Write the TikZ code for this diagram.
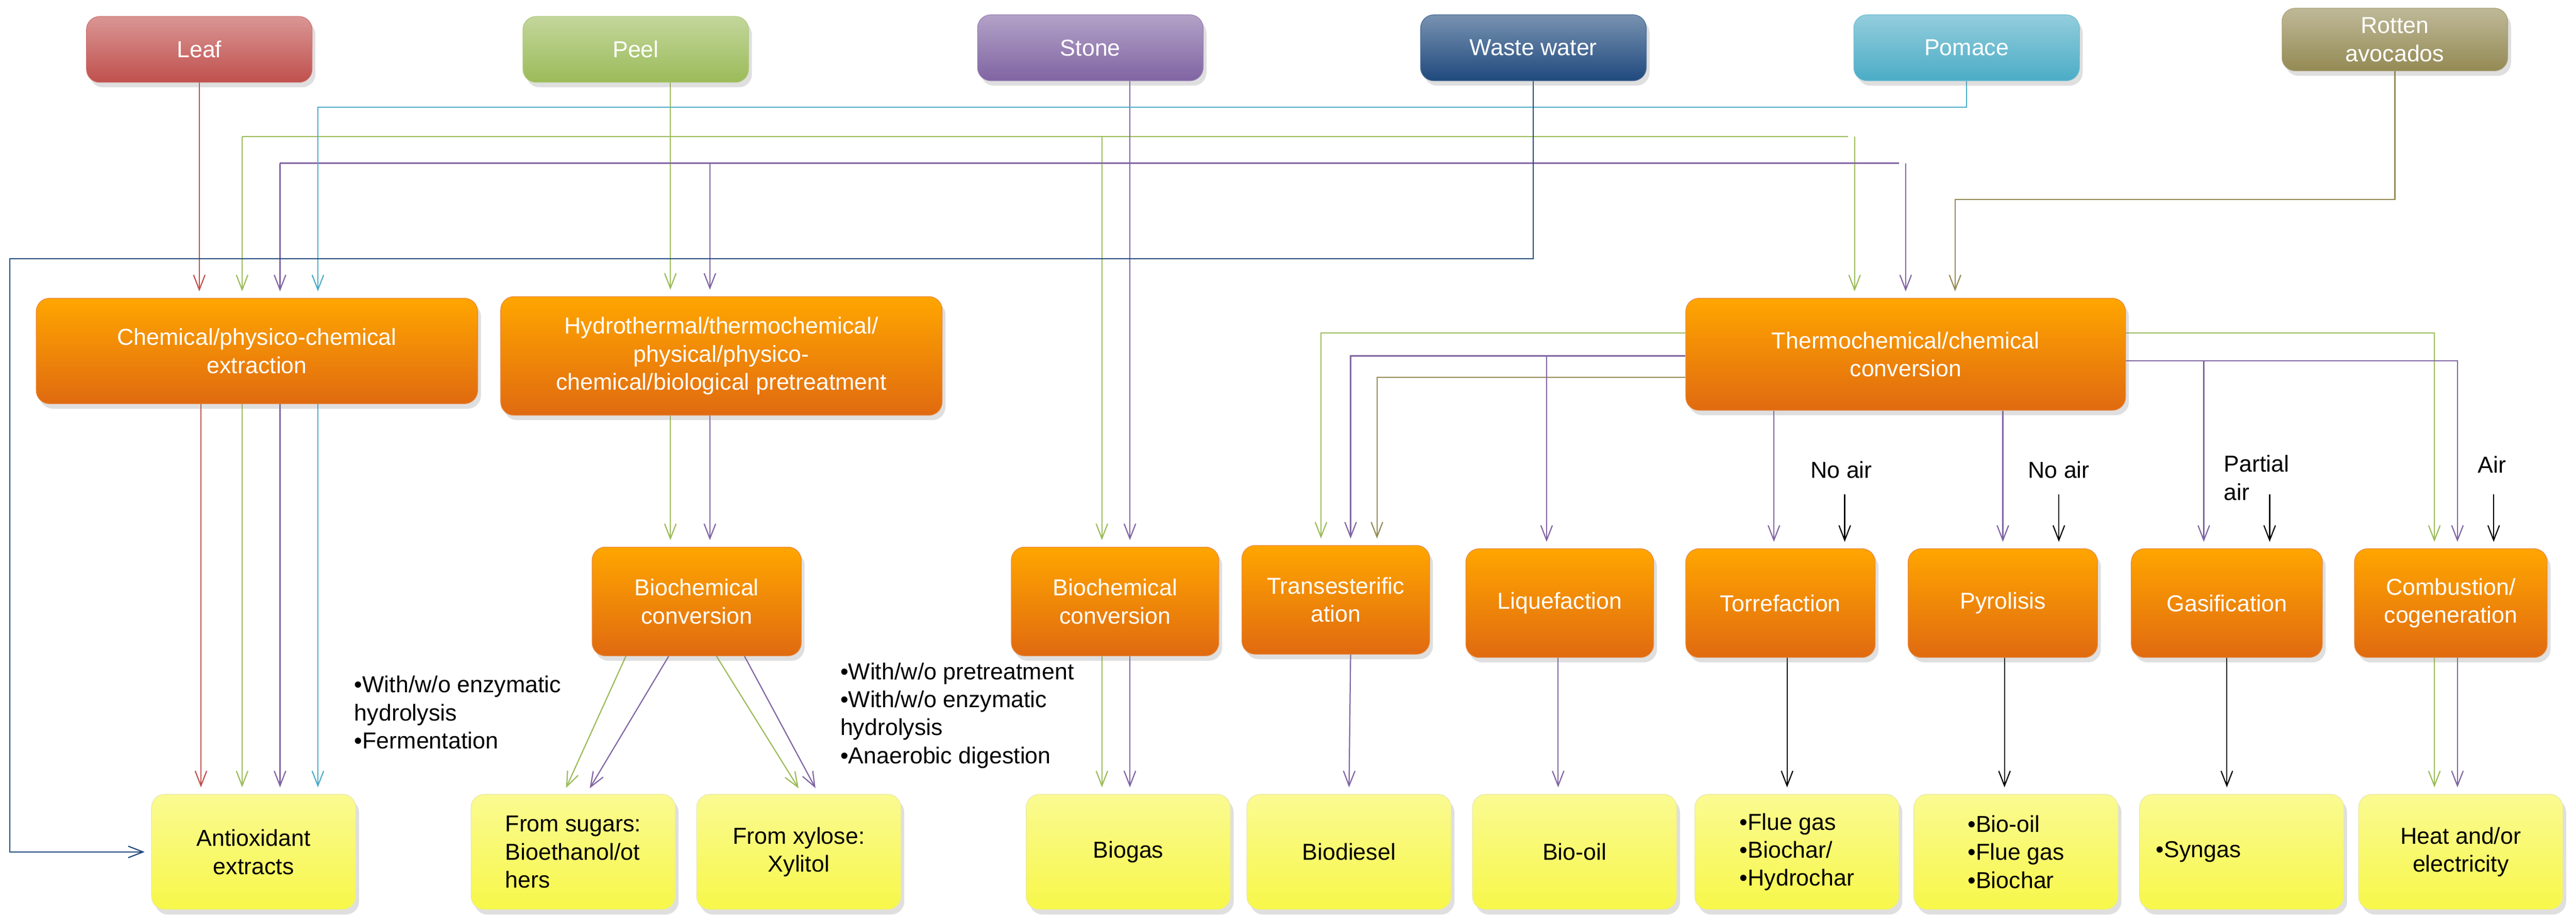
\documentclass[tikz,border=0pt]{standalone}
\usepackage{fontspec}
\setmainfont{Liberation Sans}
\usetikzlibrary{arrows.meta, shadows, backgrounds}

\begin{document}
\begin{tikzpicture}[
    x=1pt, y=-1pt,
    font=\fontsize{14}{17}\selectfont,
    box/.style={rounded corners=8pt, align=center, inner sep=2pt,
        drop shadow={opacity=0.25, shadow xshift=2pt, shadow yshift=-3pt}},
    src/.style={box, minimum width=137pt, minimum height=40pt, text=white,
        top color=#1!60!white, bottom color=#1, draw=#1!80!white},
    proc/.style={box, minimum height=66pt, text=white,
        top color=orange!70!yellow, bottom color=procc, draw=procc!80!white},
    prod/.style={box, minimum width=124pt, minimum height=70pt, text=black,
        top color=prodc!60!white, bottom color=prodc, draw=prodc!80!black!40!white},
    ln/.style={draw=#1, line width=0.7pt, -{Straight Barb[length=9pt,width=7pt]}, shorten >=4pt},
    note/.style={align=left, inner sep=0pt}
]
    \definecolor{leafc}{HTML}{C0504D}
    \definecolor{peelc}{HTML}{9BBB59}
    \definecolor{stonec}{HTML}{8064A2}
    \definecolor{wastec}{HTML}{1F497D}
    \definecolor{pomc}{HTML}{4BACC6}
    \definecolor{rotc}{HTML}{948A54}
    \definecolor{procc}{HTML}{E06A10}
    \definecolor{prodc}{HTML}{F7F74A}
    \useasboundingbox (0,0) rectangle (1564,557);

    % Sources
    \node[src=leafc] (leaf) at (121,30) {Leaf};
    \node[src=peelc] (peel) at (386,30) {Peel};
    \node[src=stonec] (stone) at (662,29) {Stone};
    \node[src=wastec] (waste) at (931,29) {Waste water};
    \node[src=pomc] (pomace) at (1194,29) {Pomace};
    \node[src=rotc, minimum height=38pt] (rotten) at (1454,24) {Rotten\\avocados};

    % Processes
    \node[proc, minimum width=268pt, minimum height=64pt] (chem) at (156,213) {Chemical/physico-chemical\\extraction};
    \node[proc, minimum width=268pt, minimum height=72pt] (hydro) at (438,216) {Hydrothermal/thermochemical/\\physical/physico-\\chemical/biological pretreatment};
    \node[proc, minimum width=267pt, minimum height=68pt] (thermo) at (1157,215) {Thermochemical/chemical\\conversion};
    \node[proc, minimum width=127pt] (bioA) at (423,365) {Biochemical\\conversion};
    \node[proc, minimum width=126pt] (bioB) at (677,365) {Biochemical\\conversion};
    \node[proc, minimum width=114pt] (trans) at (811,364) {Transesterific\\ation};
    \node[proc, minimum width=114pt] (liq) at (947,366) {Liquefaction};
    \node[proc, minimum width=115pt] (torr) at (1081,366) {Torrefaction};
    \node[proc, minimum width=115pt] (pyro) at (1216,366) {Pyrolisis};
    \node[proc, minimum width=116pt] (gasi) at (1352,366) {Gasification};
    \node[proc, minimum width=117pt] (comb) at (1488,366) {Combustion/\\cogeneration};

    % Products
    \node[prod] (anti) at (154,517) {Antioxidant\\extracts};
    \node[prod, align=left] (sug) at (348,517) {From sugars:\\Bioethanol/ot\\hers};
    \node[prod] (xyl) at (485,517) {From xylose:\\Xylitol};
    \node[prod] (biogas) at (685,517) {Biogas};
    \node[prod] (biod) at (819,517) {Biodiesel};
    \node[prod] (biooil) at (956,517) {Bio-oil};
    \node[prod, align=left] (flue) at (1091,517) {•Flue gas\\•Biochar/\\•Hydrochar};
    \node[prod, align=left] (pyrp) at (1224,517) {•Bio-oil\\•Flue gas\\•Biochar};
    \node[prod, align=left, text width=104pt] (syn) at (1361,517) {•Syngas};
    \node[prod] (heat) at (1494,517) {Heat and/or\\electricity};

    % Notes
    \node[note, anchor=north west] (noteA) at (215,410) {•With/w/o enzymatic\\hydrolysis\\•Fermentation};
    \node[note, anchor=north west] (noteB) at (510,402) {•With/w/o pretreatment\\•With/w/o enzymatic\\hydrolysis\\•Anaerobic digestion};
    \node (air1) at (1118,285) {No air};
    \node (air2) at (1250,285) {No air};
    \node[note, anchor=west] (air3) at (1350,290) {Partial\\air};
    \node (air4) at (1513,282) {Air};

    % Lanes and bends
    \coordinate (lR) at (122,0);  \coordinate (lG) at (147,0);
    \coordinate (lP) at (170,0);  \coordinate (lC) at (193,0);
    \coordinate (hG) at (407,0);  \coordinate (hP) at (431,0);
    \coordinate (sG) at (669,0);  \coordinate (sP) at (686,0);
    \coordinate (tG) at (1126,0); \coordinate (tP) at (1157,0); \coordinate (tO) at (1187,0);
    \coordinate (cY) at (0,65);   \coordinate (gY) at (0,83);
    \coordinate (pY) at (0,99);   \coordinate (oY) at (0,121);
    \coordinate (nY) at (0,157);  \coordinate (xL) at (6,0);
    \coordinate (aG) at (802,202); \coordinate (aP) at (820,216);
    \coordinate (aO) at (836,229); \coordinate (aL) at (939,216);
    \coordinate (bG) at (1478,202); \coordinate (bP) at (1492,219);
    \coordinate (bS) at (1338,219);
    \coordinate (k1) at (1120,300); \coordinate (k2) at (1250,300);
    \coordinate (k3) at (1378,300); \coordinate (k4) at (1514,300);

    \begin{scope}[on background layer]
    % Sources to processes
    \draw[ln=leafc] (leaf.south) -- (leaf.south |- chem.north);
    \draw[ln=peelc] (peel.south -| hG) -- (hydro.north -| hG);
    \draw[ln=peelc, -] (lG |- gY) -- (tG |- gY);
    \draw[ln=peelc] (lG |- gY) -- (chem.north -| lG);
    \draw[ln=peelc] (sG |- gY) -- (bioB.north -| sG);
    \draw[ln=peelc] (tG |- gY) -- (thermo.north -| tG);
    \draw[ln=stonec] (stone.south -| sP) -- (bioB.north -| sP);
    \draw[ln=stonec, -] (lP |- pY) -- (tP |- pY);
    \draw[ln=stonec] (lP |- pY) -- (chem.north -| lP);
    \draw[ln=stonec] (hP |- pY) -- (hydro.north -| hP);
    \draw[ln=stonec] (tP |- pY) -- (thermo.north -| tP);
    \draw[ln=pomc] (pomace.south) |- (lC |- cY) -- (chem.north -| lC);
    \draw[ln=wastec] (waste.south) |- (xL |- nY) -- (xL |- anti.west) -- (anti.west);
    \draw[ln=rotc] (rotten.south) |- (tO |- oY) -- (thermo.north -| tO);

    % Processes to products
    \draw[ln=leafc] (chem.south -| lR) -- (anti.north -| lR);
    \draw[ln=peelc] (chem.south -| lG) -- (anti.north -| lG);
    \draw[ln=stonec] (chem.south -| lP) -- (anti.north -| lP);
    \draw[ln=pomc] (chem.south -| lC) -- (anti.north -| lC);
    \draw[ln=peelc] (hydro.south -| hG) -- (bioA.north -| hG);
    \draw[ln=stonec] (hydro.south -| hP) -- (bioA.north -| hP);
    \draw[ln=peelc] ([xshift=-43pt]bioA.south) -- ([xshift=-6pt]sug.north);
    \draw[ln=stonec] ([xshift=-17pt]bioA.south) -- ([xshift=8pt]sug.north);
    \draw[ln=peelc] ([xshift=12pt]bioA.south) -- ([xshift=2pt]xyl.north);
    \draw[ln=stonec] ([xshift=29pt]bioA.south) -- ([xshift=12pt]xyl.north);
    \draw[ln=peelc] (bioB.south -| sG) -- (biogas.north -| sG);
    \draw[ln=stonec] (bioB.south -| sP) -- (biogas.north -| sP);

    % Thermochemical branches
    \draw[ln=peelc] (thermo.west |- aG) -| (trans.north -| aG);
    \draw[ln=stonec] (thermo.west |- aP) -| (trans.north -| aP);
    \draw[ln=rotc] (thermo.west |- aO) -| (trans.north -| aO);
    \draw[ln=stonec] (aL) -- (liq.north -| aL);
    \draw[ln=stonec] (thermo.south -| torr.north) ++(-4,0) -- ([xshift=-4pt]torr.north);
    \draw[ln=stonec] (thermo.south -| pyro.north) -- (pyro.north);
    \draw[ln=peelc] (thermo.east |- bG) -| (comb.north -| bG);
    \draw[ln=stonec] (thermo.east |- bP) -| (comb.north -| bP);
    \draw[ln=stonec] (bS) -- (gasi.north -| bS);
    \draw[ln=black] (k1) -- (torr.north -| k1);
    \draw[ln=black] (k2) -- (pyro.north -| k2);
    \draw[ln=black] (k3) -- (gasi.north -| k3);
    \draw[ln=black] (k4) -- (comb.north -| k4);
    \draw[ln=stonec] ([xshift=9pt]trans.south) -- (biod.north);
    \draw[ln=stonec] ([xshift=-1pt]liq.south) -- ([xshift=-10pt]biooil.north);
    \draw[ln=black] ([xshift=4pt]torr.south) -- ([xshift=-6pt]flue.north);
    \draw[ln=black] ([xshift=1pt]pyro.south) -- ([xshift=-7pt]pyrp.north);
    \draw[ln=black] (gasi.south) -- ([xshift=-9pt]syn.north);
    \draw[ln=peelc] (comb.south -| bG) -- (heat.north -| bG);
    \draw[ln=stonec] (comb.south -| bP) -- (heat.north -| bP);
    \end{scope}
\end{tikzpicture}
\end{document}
